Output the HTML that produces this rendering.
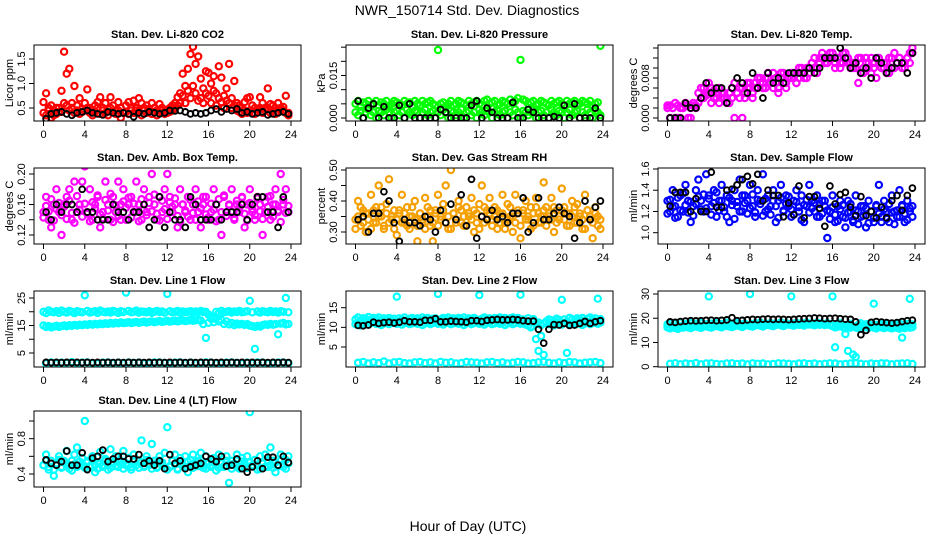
<!DOCTYPE html>
<html><head><meta charset="utf-8"><title>NWR_150714 Std. Dev. Diagnostics</title>
<style>
html,body{margin:0;padding:0;background:#fff;}
svg{display:block;font-family:"Liberation Sans",Arial,sans-serif;}
</style></head>
<body>
<svg id="chart" width="936" height="540" viewBox="0 0 936 540" xmlns="http://www.w3.org/2000/svg">
<rect x="0" y="0" width="936" height="540" fill="#fff"/>
<text x="467" y="15" font-size="14" text-anchor="middle">NWR_150714  Std. Dev. Diagnostics</text>
<text x="468" y="531" font-size="14" text-anchor="middle">Hour of Day (UTC)</text>
</svg>
<script>
// ---- shared time axes ----
const hours = [0,0.25,0.5,0.75,1,1.25,1.5,1.75,2,2.25,2.5,2.75,3,3.25,3.5,3.75,4,4.25,4.5,4.75,5,5.25,5.5,5.75,6,6.25,6.5,6.75,7,7.25,7.5,7.75,8,8.25,8.5,8.75,9,9.25,9.5,9.75,10,10.25,10.5,10.75,11,11.25,11.5,11.75,12,12.25,12.5,12.75,13,13.25,13.5,13.75,14,14.25,14.5,14.75,15,15.25,15.5,15.75,16,16.25,16.5,16.75,17,17.25,17.5,17.75,18,18.25,18.5,18.75,19,19.25,19.5,19.75,20,20.25,20.5,20.75,21,21.25,21.5,21.75,22,22.25,22.5,22.75,23,23.25,23.5,23.75];
const refHours = [0.25,0.75,1.25,1.75,2.25,2.75,3.25,3.75,4.25,4.75,5.25,5.75,6.25,6.75,7.25,7.75,8.25,8.75,9.25,9.75,10.25,10.75,11.25,11.75,12.25,12.75,13.25,13.75,14.25,14.75,15.25,15.75,16.25,16.75,17.25,17.75,18.25,18.75,19.25,19.75,20.25,20.75,21.25,21.75,22.25,22.75,23.25,23.75];
const xTicks = [0,4,8,12,16,20,24];

// ---- panel 1: Li-820 CO2 ----
const co2A = [0.62,0.8,0.45,0.55,0.35,0.5,0.42,0.85,1.65,1.2,1.3,0.6,0.95,0.55,0.7,0.48,0.6,0.88,0.5,0.45,0.55,0.62,0.72,0.5,0.6,0.48,0.72,0.55,0.45,0.62,0.5,0.4,0.55,0.62,0.5,0.65,0.45,0.7,0.6,0.5,0.55,0.48,0.6,0.5,0.45,0.58,0.5,0.42,0.45,0.5,0.55,0.6,0.72,0.8,1.2,0.95,1.3,1.6,1.75,1.4,1.55,1.1,0.9,1.25,1.22,1.0,1.15,0.8,1.35,1.12,0.75,0.9,1.4,0.7,1.05,0.6,0.55,0.5,0.62,0.7,0.72,0.55,0.5,0.48,0.72,0.6,0.5,0.9,0.58,0.55,0.5,0.6,0.48,0.52,0.75,0.4];
const co2B = [0.4,0.35,0.5,0.3,0.45,0.38,0.5,0.42,0.6,0.55,0.45,0.5,0.4,0.45,0.38,0.42,0.45,0.5,0.4,0.35,0.42,0.5,0.38,0.45,0.4,0.35,0.5,0.42,0.38,0.45,0.3,0.4,0.42,0.38,0.45,0.4,0.5,0.42,0.35,0.45,0.4,0.45,0.38,0.42,0.35,0.4,0.45,0.38,0.4,0.42,0.45,0.5,0.55,0.6,0.75,0.6,0.85,0.7,0.95,0.8,0.65,0.7,0.6,0.8,0.75,0.6,0.85,0.55,0.7,0.62,0.5,0.65,0.6,0.5,0.55,0.45,0.42,0.38,0.45,0.4,0.45,0.4,0.38,0.42,0.5,0.4,0.45,0.5,0.4,0.45,0.38,0.42,0.5,0.45,0.4,0.35];
const co2Ref = [0.28,0.38,0.4,0.42,0.38,0.35,0.4,0.42,0.45,0.4,0.38,0.36,0.42,0.4,0.38,0.4,0.38,0.32,0.4,0.38,0.42,0.4,0.38,0.4,0.45,0.44,0.45,0.42,0.38,0.4,0.38,0.4,0.45,0.48,0.42,0.48,0.45,0.48,0.4,0.42,0.38,0.4,0.42,0.36,0.38,0.4,0.42,0.38];
const co2Ticks = [0.5,1.0,1.5];
const co2Labels = ["0.5","1.0","1.5"];

// ---- panel 2: Li-820 Pressure ----
const presA = [0.005,0.006,0.004,0.0055,0.005,0.006,0.0045,0.005,0.006,0.0045,0.0055,0.005,0.006,0.004,0.005,0.006,0.0055,0.005,0.0045,0.006,0.005,0.0055,0.004,0.006,0.005,0.0045,0.006,0.005,0.0055,0.006,0.005,0.0045,0.024,0.005,0.0055,0.004,0.005,0.006,0.0045,0.005,0.006,0.0055,0.005,0.0045,0.006,0.005,0.0055,0.006,0.005,0.0045,0.006,0.0065,0.005,0.0055,0.006,0.0045,0.005,0.006,0.0055,0.005,0.0065,0.005,0.006,0.007,0.0205,0.0065,0.006,0.005,0.0055,0.006,0.0045,0.005,0.006,0.0055,0.005,0.0045,0.006,0.005,0.0055,0.006,0.005,0.0045,0.006,0.005,0.0055,0.006,0.0045,0.005,0.006,0.0055,0.005,0.006,0.0045,0.005,0.0055,0.0255];
const presB = [0.002,0.001,0.0025,0,0.002,0.003,0.001,0.002,0,0.0025,0.002,0.001,0.003,0.002,0,0.002,0.0025,0.001,0.002,0,0.003,0.002,0.001,0.0025,0.002,0,0.002,0.003,0.001,0.002,0.0025,0,0.002,0.001,0.003,0.002,0,0.0025,0.002,0.001,0.002,0.003,0,0.002,0.0025,0.001,0.002,0,0.003,0.002,0.001,0.0025,0.002,0,0.002,0.003,0.001,0.002,0.0025,0,0.002,0.001,0.003,0.002,0,0.0025,0.002,0.001,0.002,0.003,0,0.002,0.0025,0.001,0.002,0,0.003,0.002,0.001,0.0025,0.002,0,0.002,0.003,0.001,0.002,0.0025,0,0.002,0.001,0.003,0.002,0,0.0025,0.002,0.001];
const presRef = [0.006,0.0,0.0035,0.005,0.0,0.004,0.0,0.0,0.0045,0.0,0.005,0.0,0.0,0.0,0.0,0.0,0.003,0.002,0.0,0.0,0.0,0.0,0.0045,0.006,0.0,0.0035,0.002,0.0,0.0,0.0,0.0055,0.0,0.0,0.003,0.002,0.0,0.0,0.0,0.0005,0.0,0.0045,0.0,0.005,0.0,0.0,0.0,0.0035,0.0];
const presTicks = [0,0.005,0.01,0.015,0.02,0.025];
const presLabels = ["0.000","","","0.015","",""];

// ---- panel 3: Li-820 Temp ----
const tempA = [0.002,0.0,0.002,0.003,0.0,0.002,0.002,0.003,0.0,0.002,0.003,0.002,0.005,0.006,0.004,0.005,0.007,0.006,0.004,0.005,0.006,0.004,0.005,0.004,0.003,0.006,0.007,0.005,0.006,0.0,0.004,0.006,0.007,0.005,0.006,0.008,0.007,0.006,0.008,0.009,0.007,0.006,0.008,0.005,0.009,0.007,0.006,0.008,0.009,0.008,0.007,0.010,0.009,0.008,0.010,0.009,0.011,0.010,0.009,0.011,0.012,0.011,0.012,0.013,0.012,0.010,0.012,0.011,0.013,0.012,0.011,0.010,0.011,0.010,0.007,0.012,0.009,0.011,0.010,0.012,0.011,0.008,0.012,0.010,0.011,0.009,0.012,0.010,0.013,0.011,0.012,0.010,0.011,0.012,0.013,0.014];
const tempB = [0.0025,0.0025,0.002,0.0,0.0025,0.0,0.002,0.0025,0.0025,0.0,0.0025,0.0025,0.003,0.004,0.006,0.0045,0.005,0.003,0.0055,0.004,0.003,0.005,0.004,0.003,0.005,0.004,0.0,0.005,0.004,0.006,0.005,0.007,0.006,0.004,0.007,0.006,0.008,0.007,0.006,0.008,0.007,0.009,0.007,0.006,0.008,0.009,0.007,0.008,0.008,0.009,0.007,0.008,0.010,0.009,0.008,0.010,0.011,0.012,0.010,0.012,0.013,0.012,0.011,0.012,0.013,0.011,0.012,0.010,0.011,0.013,0.012,0.011,0.010,0.011,0.012,0.009,0.010,0.012,0.011,0.009,0.010,0.012,0.011,0.010,0.010,0.011,0.009,0.012,0.010,0.011,0.012,0.011,0.010,0.012,0.011,0.013];
const tempRef = [0.0,0.0,0.0,0.003,0.002,0.002,0.004,0.007,0.005,0.006,0.006,0.003,0.006,0.008,0.007,0.005,0.009,0.006,0.004,0.009,0.007,0.008,0.007,0.009,0.009,0.009,0.009,0.010,0.009,0.010,0.012,0.012,0.012,0.014,0.012,0.010,0.011,0.009,0.010,0.008,0.012,0.011,0.009,0.010,0.011,0.011,0.009,0.013];
const tempTicks = [0,0.002,0.004,0.006,0.008,0.010,0.012,0.014];
const tempLabels = ["0.000","","","","0.008","","",""];

// ---- panel 4: Amb. Box Temp ----
const ambA = [0.15,0.17,0.14,0.13,0.16,0.18,0.15,0.12,0.16,0.17,0.18,0.14,0.19,0.15,0.16,0.19,0.21,0.15,0.18,0.14,0.16,0.17,0.13,0.15,0.19,0.16,0.14,0.17,0.15,0.19,0.16,0.18,0.14,0.16,0.17,0.15,0.19,0.16,0.14,0.18,0.15,0.17,0.2,0.16,0.14,0.17,0.15,0.18,0.2,0.17,0.15,0.16,0.13,0.18,0.16,0.15,0.17,0.14,0.16,0.18,0.15,0.13,0.16,0.17,0.14,0.15,0.18,0.16,0.14,0.12,0.17,0.15,0.16,0.18,0.14,0.16,0.15,0.17,0.13,0.16,0.18,0.15,0.14,0.17,0.16,0.12,0.15,0.17,0.14,0.16,0.18,0.15,0.2,0.16,0.18,0.15];
const ambB = [0.143,0.158,0.151,0.167,0.139,0.154,0.162,0.146,0.157,0.141,0.165,0.149,0.136,0.171,0.153,0.144,0.161,0.148,0.138,0.163,0.155,0.172,0.147,0.142,0.166,0.152,0.174,0.137,0.159,0.145,0.14,0.164,0.156,0.169,0.143,0.161,0.15,0.138,0.167,0.153,0.146,0.162,0.151,0.173,0.148,0.139,0.165,0.154,0.141,0.163,0.157,0.168,0.145,0.137,0.16,0.152,0.144,0.166,0.149,0.14,0.164,0.155,0.17,0.147,0.143,0.161,0.153,0.138,0.167,0.15,0.172,0.145,0.159,0.151,0.142,0.165,0.156,0.169,0.148,0.139,0.162,0.154,0.146,0.168,0.151,0.141,0.163,0.157,0.171,0.144,0.16,0.152,0.137,0.166,0.149,0.158];
const ambRef = [0.15,0.14,0.16,0.15,0.16,0.16,0.15,0.18,0.15,0.15,0.14,0.14,0.14,0.16,0.15,0.15,0.14,0.15,0.15,0.16,0.13,0.14,0.17,0.13,0.15,0.14,0.14,0.13,0.17,0.16,0.14,0.14,0.14,0.16,0.14,0.15,0.15,0.15,0.16,0.14,0.16,0.17,0.17,0.15,0.15,0.13,0.17,0.15];
const ambTicks = [0.12,0.14,0.16,0.18,0.20];
const ambLabels = ["0.12","","0.16","","0.20"];

// ---- panel 5: Gas Stream RH ----
const rhA = [0.34,0.40,0.32,0.37,0.30,0.36,0.42,0.33,0.38,0.45,0.35,0.31,0.39,0.47,0.34,0.37,0.29,0.36,0.42,0.33,0.38,0.31,0.35,0.40,0.27,0.36,0.33,0.41,0.38,0.32,0.27,0.37,0.42,0.35,0.39,0.45,0.31,0.50,0.36,0.33,0.40,0.37,0.32,0.38,0.35,0.41,0.30,0.36,0.39,0.45,0.33,0.37,0.41,0.34,0.38,0.31,0.36,0.42,0.33,0.39,0.35,0.30,0.42,0.37,0.28,0.36,0.40,0.34,0.38,0.32,0.41,0.36,0.33,0.46,0.38,0.35,0.41,0.30,0.37,0.34,0.44,0.38,0.32,0.36,0.40,0.33,0.39,0.35,0.31,0.42,0.37,0.34,0.28,0.38,0.35,0.31];
const rhB = [0.31,0.35,0.38,0.33,0.36,0.34,0.31,0.37,0.33,0.35,0.38,0.32,0.36,0.33,0.35,0.31,0.34,0.37,0.33,0.36,0.32,0.35,0.38,0.34,0.32,0.36,0.34,0.31,0.35,0.37,0.33,0.36,0.32,0.34,0.37,0.33,0.35,0.31,0.36,0.34,0.38,0.33,0.35,0.32,0.36,0.34,0.37,0.33,0.31,0.35,0.38,0.34,0.36,0.32,0.35,0.37,0.33,0.36,0.31,0.34,0.38,0.35,0.33,0.36,0.32,0.37,0.34,0.35,0.31,0.36,0.38,0.33,0.35,0.37,0.32,0.36,0.34,0.38,0.33,0.35,0.37,0.34,0.36,0.32,0.35,0.38,0.33,0.36,0.34,0.31,0.37,0.35,0.33,0.36,0.32,0.34];
const rhRef = [0.34,0.35,0.30,0.36,0.36,0.43,0.40,0.33,0.27,0.34,0.33,0.33,0.32,0.35,0.34,0.30,0.37,0.33,0.39,0.34,0.42,0.32,0.47,0.28,0.35,0.34,0.37,0.34,0.35,0.33,0.36,0.36,0.41,0.30,0.33,0.41,0.34,0.34,0.36,0.38,0.36,0.35,0.28,0.33,0.40,0.34,0.38,0.40];
const rhTicks = [0.30,0.35,0.40,0.45,0.50];
const rhLabels = ["0.30","","0.40","","0.50"];

// ---- panel 6: Sample Flow ----
const sfA = [1.3,1.2,1.4,1.25,1.15,1.35,1.2,1.45,1.3,1.1,1.25,1.4,1.5,1.3,1.2,1.55,1.35,1.25,1.4,1.15,1.3,1.45,1.2,1.35,1.1,1.3,1.4,1.25,1.5,1.2,1.35,1.3,1.45,1.25,1.15,1.4,1.3,1.55,1.2,1.35,1.25,1.4,1.1,1.3,1.45,1.2,1.35,1.25,1.15,1.3,1.4,1.2,1.35,1.1,1.25,1.45,1.3,1.2,1.35,1.15,1.3,1.25,0.95,1.2,1.35,1.1,1.25,1.3,1.15,1.05,1.3,1.2,1.1,1.35,1.2,1.15,1.25,1.05,1.3,1.2,1.1,1.25,1.45,1.15,1.3,1.2,1.1,1.35,1.2,1.15,1.4,1.25,1.1,1.3,1.2,1.15];
const sfB = [1.18,1.31,1.24,1.14,1.33,1.21,1.37,1.26,1.19,1.29,1.16,1.27,1.34,1.22,1.36,1.23,1.32,1.17,1.28,1.38,1.21,1.3,1.24,1.15,1.33,1.26,1.13,1.29,1.2,1.35,1.28,1.18,1.23,1.36,1.19,1.31,1.27,1.16,1.32,1.22,1.17,1.3,1.25,1.14,1.33,1.21,1.27,1.34,1.22,1.17,1.29,1.24,1.12,1.26,1.31,1.19,1.23,1.28,1.15,1.27,1.18,1.3,1.21,1.13,1.24,1.17,1.11,1.22,1.26,1.14,1.19,1.27,1.12,1.21,1.08,1.25,1.16,1.23,1.09,1.2,1.14,1.26,1.18,1.1,1.22,1.13,1.27,1.19,1.08,1.21,1.15,1.26,1.18,1.12,1.23,1.25];
const sfRef = [1.25,1.38,1.38,1.38,1.2,1.32,1.2,1.2,1.57,1.24,1.24,1.4,1.41,1.45,1.5,1.53,1.46,1.55,1.3,1.4,1.35,1.35,1.15,1.28,1.17,1.44,1.14,1.34,1.34,1.23,1.06,1.44,1.27,1.36,1.38,1.24,1.16,1.34,1.16,1.2,1.14,1.24,1.14,1.3,1.35,1.21,1.35,1.42];
const sfTicks = [1.0,1.2,1.4,1.6];
const sfLabels = ["1.0","1.2","1.4","1.6"];

// ---- panel 7: Line 1 Flow ----
const l1A = [20,19.5,20.5,20,19.8,20.2,19.6,20.4,20,19.7,20.3,20,19.5,20.2,20,19.8,26,20.3,19.7,20,20.2,19.6,20.4,20,19.8,20.1,19.7,20.3,20,19.6,20.2,19.9,27,20.3,19.8,20,20.4,19.7,20.1,20,19.8,20.2,19.6,20,20.3,19.9,20.1,19.7,26.5,20.2,19.8,20,20.3,19.6,20.1,19.9,20,20.2,19.7,20.1,19.8,20.3,19.9,20,19,18,17.5,20,19.5,20.3,19.8,20,20.2,19.7,20.1,19.9,20.3,19.8,20,20.2,24,19.8,6.5,20.1,19.7,20.2,20,19.8,20.3,19.9,20.1,19.7,20.2,20,25,19.8];
const l1B = [15,14.5,14.8,14.3,14.6,14.9,14.5,14.8,15,14.7,15.1,14.9,15.2,15,15.3,15.1,15.4,15.2,15.5,15.3,15.6,15.4,15.7,15.5,15.8,15.6,15.9,15.7,16,15.8,16.1,15.9,16,16.2,15.9,16.1,16.3,16,16.2,16.4,16.1,16.3,16.5,16.2,16.4,16.6,16.3,16.5,16.7,16.4,16.6,16.8,16.5,16.7,16.9,16.6,16.8,17,16.7,16.9,17,16.8,15.5,10.5,16,17.5,16.2,17.8,16.5,17,15.6,16.5,15.4,15.9,15.1,15.7,15.4,15.6,15.2,15.5,15,14.8,14.5,14.9,14.6,15.1,15.4,15.2,15.6,15.3,15.5,11.8,15.7,15.9,15.4,15.6];
const l1Low = [1.3,1.6,1.2,1.5,1.4,1.7,1.2,1.5,1.6,1.3,1.2,1.5,1.6,1.3,1.5,1.2,1.6,1.4,1.5,1.2,1.3,1.6,1.5,1.4,1.2,1.5,1.6,1.3,1.5,1.2,1.4,1.6,1.5,1.2,1.3,1.5,1.6,1.4,1.2,1.5,1.3,1.6,1.5,1.2,1.4,1.5,1.6,1.3];
const l1Ref = [1.6,1.5,1.6,1.5,1.6,1.5,1.6,1.5,1.6,1.5,1.6,1.5,1.6,1.5,1.6,1.5,1.6,1.5,1.6,1.5,1.6,1.5,1.6,1.5,1.6,1.5,1.6,1.5,1.6,1.5,1.6,1.5,1.6,1.5,1.6,1.5,1.6,1.5,1.6,1.5,1.6,1.5,1.6,1.5,1.6,1.5,1.6,1.5];
const l1Ticks = [5,10,15,20,25];
const l1Labels = ["5","","15","","25"];

// ---- panel 8: Line 2 Flow ----
const l2A = [12,12.5,11.8,12.3,12.1,12.6,11.9,12.4,12.2,12.5,11.8,12.3,12,12.4,11.9,12.2,17.8,12.3,12,12.5,11.8,12.2,12.4,12,12.3,11.9,12.5,12.1,12.4,11.8,12.2,12.3,18.5,12,12.4,12.1,12.5,11.9,12.3,12.2,12.4,12,12.5,11.9,12.3,12.1,12.4,12,18.2,12.2,12.5,11.9,12.3,12.1,12.4,12,12.5,12.2,12.4,11.9,12.3,12.5,12.1,12.4,18.3,12,11.5,12.3,10.2,12.1,7,4,7.8,3,11.5,12,11.8,10.5,12.2,11.9,17,12,3.5,12.4,12.1,11.9,12.3,12,12.4,11.8,12.2,12.5,12,12.3,17.3,12.1];
const l2B = [10.8,11.2,10.5,11,11.3,10.7,11.1,11.5,10.9,11.2,10.6,11,11.3,10.8,11.1,11.4,10.9,11.2,10.7,11.1,11.4,10.8,11,11.3,10.9,11.2,10.6,11,11.3,10.8,11.1,11.5,10.9,11.2,10.7,11.1,11.4,10.8,11,11.3,10.9,11.2,10.6,11,11.3,10.8,11.1,11.5,10.9,11.2,10.7,11.1,11.4,10.8,11,11.3,10.9,11.2,10.6,11,11.3,10.8,11.1,11.5,10.9,11.2,10.7,10.5,10,11.3,10.9,11.2,10.6,11,11.3,10.8,11.1,11.5,10.9,11.2,10.7,11.1,11.4,10.8,11,11.3,10.9,11.2,10.6,11,11.3,10.8,11.1,11.5,10.9,11.2];
const l2Low = [1.0,1.2,0.8,1.1,0.9,1.3,0.8,1.1,1.2,0.9,0.8,1.1,1.2,0.9,1.1,0.8,1.2,1.0,1.1,0.8,0.9,1.2,1.1,1.0,0.8,1.1,1.2,0.9,1.1,0.8,1.0,1.2,1.1,0.8,0.9,1.1,1.2,1.0,0.8,1.1,0.9,1.2,1.1,0.8,1.0,1.1,1.2,0.9];
const l2Ref = [10.5,10.4,10.6,11.3,11,11.2,11.3,11.1,11.3,11.7,11.4,11.4,11.3,11.8,11.8,12.2,11.4,11.4,11.6,11.5,11.4,11.3,11.7,11.7,11.5,11.8,11.9,12,11.9,11.9,12,11.9,11.7,11.6,11.6,9.5,6,9.5,10.7,10.6,11,10.5,10.6,11,11.5,11,11.4,11.7];
const l2Ticks = [5,10,15];
const l2Labels = ["5","10","15"];

// ---- panel 9: Line 3 Flow ----
const l3A = [17.5,18,16.5,17.8,17,18.2,16.8,17.6,17.2,18,16.9,17.7,17.3,18.1,17,17.5,29,17.8,17.2,18,16.8,17.6,17.4,18.1,17,17.7,17.3,18,16.9,17.5,17.8,17.2,30,17.6,17.9,17.3,18.2,17,17.7,17.4,18,17.2,17.8,17.5,18.3,17.1,17.9,17.4,29,17.7,18.1,17.3,18,17.5,18.2,17.4,17.9,17.6,18.1,17.3,17.8,17.5,18,17.2,29,8,17.5,17.9,17.3,13.5,6.5,17.7,5,4,17.3,17.9,17,17.5,17.5,17.1,26,17.3,17,17.6,17.2,17.8,17.4,17,17.6,17.3,17.9,12,17.2,17.6,28,17.4];
const l3B = [16.2,15.8,16.5,16,15.6,16.3,16.1,16.6,16.2,15.9,16.4,16.7,16.3,16,16.5,16.8,16.4,16.1,16.6,16.9,16.5,16.2,16.7,17,16.6,16.3,16.8,17.1,16.7,16.4,16.9,17.2,16.8,16.5,17,17.3,16.9,16.6,17.1,17.4,17,16.7,17.2,17.5,17.1,16.8,17.3,17.6,17.2,16.9,17.4,17.7,17.3,17,17.5,17.8,17.4,17.1,17.6,17.9,17.5,17.2,17.7,17.4,16.8,16.2,16.5,16.9,16.3,15.8,16.4,16.1,16.6,16.2,15.9,16.4,16.7,16.3,16,16.5,16.1,15.8,16.4,16.2,15.9,16.5,16.1,15.8,16.3,16,15.7,16.2,15.9,16.4,16.1,16.3];
const l3Low = [1.2,1.4,1.0,1.3,1.1,1.5,1.0,1.3,1.4,1.1,1.0,1.3,1.4,1.1,1.3,1.0,1.4,1.2,1.3,1.0,1.1,1.4,1.3,1.2,1.0,1.3,1.4,1.1,1.3,1.0,1.2,1.4,1.3,1.0,1.1,1.3,1.4,1.2,1.0,1.3,1.1,1.4,1.3,1.0,1.2,1.3,1.4,1.1];
const l3Ref = [18.5,18.3,18.6,18.8,19,18.9,19,19.1,19.2,19,19.1,19.3,20.2,19,19.1,19.3,19.5,19.4,19.6,19.7,19.5,19.6,19.5,19.4,19.5,19.7,19.8,19.9,20.1,20,19.8,19.9,20,19.8,19.6,19.5,18.5,13.2,15,18.3,18.6,18.4,18.2,18,18.2,18.6,19,19.2];
const l3Ticks = [0,10,20,30];
const l3Labels = ["0","10","20","30"];

// ---- panel 10: Line 4 (LT) Flow ----
const l4A = [0.5,0.62,0.45,0.55,0.38,0.52,0.6,0.48,0.55,0.66,0.5,0.44,0.62,0.7,0.5,0.58,1.0,0.55,0.48,0.6,0.42,0.53,0.65,0.5,0.57,0.45,0.68,0.52,0.6,0.48,0.55,0.66,0.5,0.58,0.45,0.62,0.5,0.55,0.78,0.48,0.6,0.52,0.74,0.55,0.47,0.6,0.53,0.64,0.93,0.48,0.55,0.62,0.45,0.58,0.5,0.6,0.42,0.56,0.62,0.5,0.55,0.64,0.47,0.6,0.53,0.5,0.58,0.44,0.62,0.52,0.48,0.6,0.3,0.55,0.5,0.62,0.46,0.58,0.52,0.6,1.1,0.5,0.56,0.45,0.6,0.52,0.62,0.48,0.7,0.55,0.42,0.5,0.62,0.48,0.56,0.6];
const l4B = [0.5,0.55,0.48,0.52,0.45,0.5,0.56,0.47,0.53,0.5,0.46,0.55,0.51,0.48,0.54,0.5,0.47,0.53,0.49,0.56,0.5,0.46,0.52,0.48,0.55,0.5,0.47,0.53,0.49,0.55,0.51,0.46,0.52,0.5,0.48,0.54,0.5,0.47,0.53,0.49,0.56,0.5,0.46,0.52,0.48,0.55,0.5,0.47,0.45,0.49,0.55,0.51,0.46,0.52,0.5,0.48,0.54,0.5,0.47,0.53,0.49,0.56,0.5,0.46,0.52,0.48,0.55,0.5,0.47,0.53,0.49,0.55,0.51,0.46,0.52,0.5,0.48,0.54,0.5,0.47,0.53,0.49,0.56,0.5,0.46,0.52,0.48,0.55,0.5,0.47,0.53,0.49,0.55,0.51,0.46,0.52];
const l4Ref = [0.56,0.52,0.5,0.54,0.66,0.5,0.5,0.64,0.45,0.58,0.6,0.67,0.54,0.57,0.6,0.6,0.57,0.57,0.62,0.52,0.55,0.5,0.55,0.46,0.62,0.52,0.55,0.46,0.48,0.5,0.52,0.6,0.57,0.54,0.6,0.49,0.5,0.57,0.46,0.42,0.48,0.55,0.46,0.59,0.59,0.5,0.6,0.53];
const l4Ticks = [0.4,0.6,0.8,1.0];
const l4Labels = ["0.4","","0.8",""];

const NS = "http://www.w3.org/2000/svg";
const svg = document.getElementById("chart");
function mk(tag, attrs, parent){
  const e = document.createElementNS(NS, tag);
  for (const k in attrs) e.setAttribute(k, attrs[k]);
  (parent||svg).appendChild(e);
  return e;
}

const panels = [
  {key:"co2", title:"Stan. Dev. Li-820 CO2", ylab:"Licor ppm", col:0, row:0, cal:[0.5,108,1.5,59], color:"#ff0000", series:[[hours,co2B],[hours,co2A]], ref:co2Ref, ticks:co2Ticks, labels:co2Labels},
  {key:"pressure", title:"Stan. Dev. Li-820 Pressure", ylab:"kPa", col:1, row:0, cal:[0,118,0.015,75.5], color:"#00ff00", series:[[hours,presB],[hours,presA]], ref:presRef, ticks:presTicks, labels:presLabels},
  {key:"li820-temp", title:"Stan. Dev. Li-820 Temp.", ylab:"degrees C", col:2, row:0, cal:[0,118,0.008,78], color:"#ff00ff", series:[[hours,tempB],[hours,tempA]], ref:tempRef, ticks:tempTicks, labels:tempLabels},
  {key:"amb-box-temp", title:"Stan. Dev. Amb. Box Temp.", ylab:"degrees C", col:0, row:1, cal:[0.12,235,0.20,174], color:"#ff00ff", series:[[hours,ambB],[hours,ambA]], ref:ambRef, ticks:ambTicks, labels:ambLabels},
  {key:"gas-rh", title:"Stan. Dev. Gas Stream RH", ylab:"percent", col:1, row:1, cal:[0.30,232,0.50,170], color:"#f5a000", series:[[hours,rhB],[hours,rhA]], ref:rhRef, ticks:rhTicks, labels:rhLabels},
  {key:"sample-flow", title:"Stan. Dev. Sample Flow", ylab:"ml/min", col:2, row:1, cal:[1.0,232.7,1.6,169], color:"#0000ff", series:[[hours,sfB],[hours,sfA]], ref:sfRef, ticks:sfTicks, labels:sfLabels},
  {key:"line1-flow", title:"Stan. Dev. Line 1 Flow", ylab:"ml/min", col:0, row:2, cal:[5,353,25,298], color:"#00ffff", series:[[refHours,l1Low],[hours,l1B],[hours,l1A]], ref:l1Ref, ticks:l1Ticks, labels:l1Labels},
  {key:"line2-flow", title:"Stan. Dev. Line 2 Flow", ylab:"ml/min", col:1, row:2, cal:[5,347,15,307.7], color:"#00ffff", series:[[refHours,l2Low],[hours,l2B],[hours,l2A]], ref:l2Ref, ticks:l2Ticks, labels:l2Labels},
  {key:"line3-flow", title:"Stan. Dev. Line 3 Flow", ylab:"ml/min", col:2, row:2, cal:[0,366.7,30,294], color:"#00ffff", series:[[refHours,l3Low],[hours,l3B],[hours,l3A]], ref:l3Ref, ticks:l3Ticks, labels:l3Labels},
  {key:"line4-flow", title:"Stan. Dev. Line 4 (LT) Flow", ylab:"ml/min", col:0, row:3, cal:[0.4,474,1.0,421], color:"#00ffff", series:[[hours,l4B],[hours,l4A]], ref:l4Ref, ticks:l4Ticks, labels:l4Labels}
];
const rowTop = [45,168,291,411];

panels.forEach(p => {
  const g = mk("g", {});
  
  
  const off = 312*p.col;
  const bx0 = 34+off, bx1 = 301+off;
  const by0 = rowTop[p.row], by1 = rowTop[p.row]+76;
  const xs = h => 43.5+off + h*(247.5/24);
  const [v0,y0,v1,y1] = p.cal;
  const ys = v => y0 + (v - v0)*(y1 - y0)/(v1 - v0);
  const cx = (bx0+bx1)/2;

  const t = mk("text", {x:cx, y:by0-7, "font-size":"11", "font-weight":"bold", "text-anchor":"middle"}, g);
  t.textContent = p.title;
  
  

  const clipId = "clip-"+p.key;
  const cp = mk("clipPath", {id:clipId}, g);
  mk("rect", {x:bx0, y:by0, width:bx1-bx0, height:by1-by0}, cp);
  const pts = mk("g", {"clip-path":"url(#"+clipId+")"}, g);
  
  
  p.series.forEach(([tx, vals]) => {
    vals.forEach((v, i) => {
      const c = mk("circle", {cx:xs(tx[i]).toFixed(1), cy:ys(v).toFixed(1), r:"3.1", fill:"none", stroke:p.color, "stroke-width":"2.2"}, pts);
      
      
    });
  });
  p.ref.forEach((v, i) => {
    const c = mk("circle", {cx:xs(refHours[i]).toFixed(1), cy:ys(v).toFixed(1), r:"2.9", fill:"none", stroke:"#000", "stroke-width":"1.9"}, pts);
    
    
  });

  const box = mk("rect", {x:bx0, y:by0, width:bx1-bx0, height:by1-by0, fill:"none", stroke:"#000", "stroke-width":"1"}, g);
  
  

  const xa = mk("g", {}, g);
  
  
  mk("line", {x1:xs(xTicks[0]), x2:xs(xTicks[xTicks.length-1]), y1:by1, y2:by1, stroke:"#000"}, xa);
  xTicks.forEach(h => {
    mk("line", {x1:xs(h), x2:xs(h), y1:by1, y2:by1+5, stroke:"#000"}, xa);
    const l = mk("text", {x:xs(h), y:by1+17, "font-size":"11", "text-anchor":"middle"}, xa);
    l.textContent = String(h);
    
    
  });

  const ya = mk("g", {}, g);
  
  
  mk("line", {x1:bx0, x2:bx0, y1:ys(p.ticks[0]), y2:ys(p.ticks[p.ticks.length-1]), stroke:"#000"}, ya);
  p.ticks.forEach((v, i) => {
    const y = ys(v);
    mk("line", {x1:bx0-5, x2:bx0, y1:y, y2:y, stroke:"#000"}, ya);
    if (p.labels[i]) {
      const lx = bx0-9;
      const l = mk("text", {x:lx, y:y, "font-size":"11", "text-anchor":"middle", transform:"rotate(-90 "+lx+" "+y+")"}, ya);
      l.textContent = p.labels[i];
      
      
    }
  });
  const my = (by0+by1)/2, tx = bx0-21;
  const yl = mk("text", {x:tx, y:my, "font-size":"11", "text-anchor":"middle", transform:"rotate(-90 "+tx+" "+my+")"}, g);
  yl.textContent = p.ylab;
  
  
});
</script>
</body></html>
